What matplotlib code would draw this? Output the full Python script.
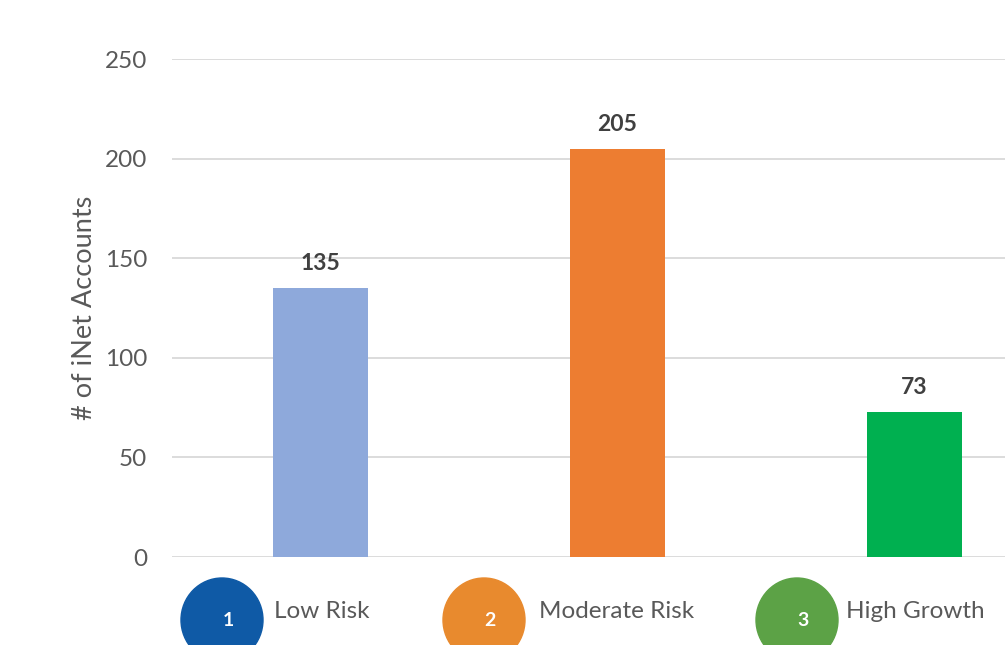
import matplotlib.pyplot as plt
from matplotlib.patches import Ellipse

categories = ['Low Risk', 'Moderate Risk', 'High Growth']
accounts = [135, 205, 73]
bar_colors = ['#8EA9DB', '#ED7D31', '#00B050']
badge_colors = ['#0F5AA6', '#E88A2E', '#5CA246']
badge_numbers = ['1', '2', '3']

plt.rcParams['font.family'] = ['Lato', 'DejaVu Sans']
grey = '#595959'

fig = plt.figure(figsize=(10.05, 6.45), dpi=100)
ax = fig.add_axes([172 / 1005, 88 / 645, 891 / 1005, 498 / 645])

x = range(len(categories))
ax.bar(x, accounts, width=0.32, color=bar_colors, zorder=3)
for i, v in enumerate(accounts):
    ax.text(i, v + 7, str(v), ha='center', va='bottom', fontsize=16.5,
            fontweight='bold', color='#404040')

ax.set_xlim(-0.5, 2.5)
ax.set_ylim(0, 250)
ax.set_yticks(range(0, 251, 50))
ax.tick_params(axis='y', length=0, pad=18, labelsize=17.5, labelcolor=grey)
ax.set_xticks([])
ax.grid(axis='y', color='#D9D9D9', linewidth=1.3, zorder=0)
for s in ax.spines.values():
    s.set_visible(False)
ax.set_ylabel('# of iNet Accounts', fontsize=19.5, color=grey)
ax.yaxis.set_label_coords(-75 / 891, 0.5)

# numbered badges under the axis
badge_x = [222, 484, 797]
label_x = [274, 539, 846]
for bx, lx, c, n, name in zip(badge_x, label_x, badge_colors, badge_numbers, categories):
    e = Ellipse((bx / 1005, 1 - 620 / 645), 82 / 1005, 84 / 645,
                transform=fig.transFigure, color=c)
    fig.patches.append(e)
    fig.text(bx / 1005 + 0.006, 1 - 621 / 645, n, ha='center', va='center',
             color='white', fontsize=14, fontweight='bold')
    fig.text(lx / 1005, 1 - 612 / 645, name, ha='left', va='center',
             color=grey, fontsize=17.5)

fig.savefig('out.png', dpi=100)
